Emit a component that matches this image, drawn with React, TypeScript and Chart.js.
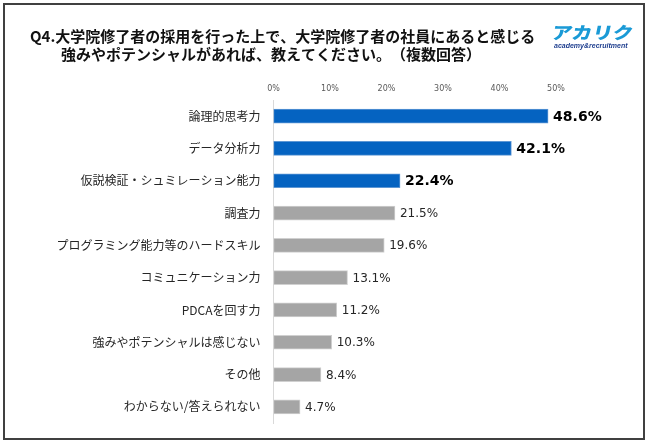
import React, { useEffect, useRef } from "react";
import { Chart, registerables } from "chart.js";

Chart.register(...registerables);

const categories = [
  "論理的思考力",
  "データ分析力",
  "仮説検証・シュミレーション能力",
  "調査力",
  "プログラミング能力等のハードスキル",
  "コミュニケーション力",
  "PDCAを回す力",
  "強みやポテンシャルは感じない",
  "その他",
  "わからない/答えられない",
];
const values = [48.6, 42.1, 22.4, 21.5, 19.6, 13.1, 11.2, 10.3, 8.4, 4.7];
const highlighted = [true, true, true, false, false, false, false, false, false, false];
const xTickMin = 0;
const xTickMax = 50;
const xTickStep = 10;

const titleLine1 = "Q4.大学院修了者の採用を行った上で、大学院修了者の社員にあると感じる";
const titleLine2 = "強みやポテンシャルがあれば、教えてください。（複数回答）";

const BLUE = "#0563c1";
const BLUE_EDGE = "#5e97d4";
const GRAY = "#a5a5a5";
const GRAY_EDGE = "#d0d0d0";

const valueLabelPlugin = {
  id: "valueLabels",
  afterDatasetsDraw(chart: any) {
    const ctx = chart.ctx;
    const meta = chart.getDatasetMeta(0);
    ctx.save();
    ctx.textBaseline = "middle";
    ctx.textAlign = "left";
    meta.data.forEach((bar: any, i: number) => {
      const v = values[i];
      const text = v.toFixed(1) + "%";
      if (highlighted[i]) {
        ctx.font = "bold 14px 'DejaVu Sans'";
        ctx.fillStyle = "#000000";
      } else {
        ctx.font = "12px 'DejaVu Sans'";
        ctx.fillStyle = "#262626";
      }
      ctx.fillText(text, bar.x + 5, bar.y + 1);
    });
    ctx.restore();
  },
};

const titleStyle: any = {
  position: "absolute",
  fontFamily: "'Noto Sans CJK JP'",
  fontWeight: 700,
  fontSize: 15,
  lineHeight: "18px",
  color: "#111111",
  whiteSpace: "nowrap",
  textSpacingTrim: "space-all",
  fontKerning: "none",
};

export default function App() {
  const canvasRef = useRef<HTMLCanvasElement | null>(null);

  useEffect(() => {
    if (!canvasRef.current) return;
    const chart = new Chart(canvasRef.current, {
      type: "bar",
      data: {
        labels: categories,
        datasets: [
          {
            data: values,
            backgroundColor: highlighted.map((h) => (h ? BLUE : GRAY)),
            borderColor: highlighted.map((h) => (h ? BLUE_EDGE : GRAY_EDGE)),
            borderWidth: 1,
            borderSkipped: false,
            barThickness: 14,
          },
        ],
      },
      options: {
        indexAxis: "y",
        responsive: false,
        maintainAspectRatio: false,
        animation: false,
        layout: { padding: { left: 0, right: 94, top: 0, bottom: 22 } },
        plugins: {
          legend: { display: false },
          tooltip: { enabled: false },
          title: { display: false },
        },
        scales: {
          x: {
            position: "top",
            min: xTickMin,
            max: xTickMax,
            grid: { display: false, drawTicks: false },
            border: { display: false },
            ticks: {
              stepSize: xTickStep,
              padding: 6,
              color: "#595959",
              font: { family: "'DejaVu Sans'", size: 8 },
              callback: (v: any) => v + "%",
            },
            afterFit: (s: any) => {
              s.height = 100;
            },
          },
          y: {
            grid: { display: false, drawTicks: false },
            border: { display: true, color: "#d9d9d9", width: 1 },
            ticks: {
              padding: 13,
              color: "#262626",
              font: { family: "'Noto Sans CJK JP'", size: 12 },
            },
            afterFit: (s: any) => {
              s.width = 273.5;
            },
          },
        },
      } as any,
      plugins: [valueLabelPlugin],
    });
    return () => chart.destroy();
  }, []);

  return (
    <div
      style={{
        position: "fixed",
        left: 0,
        top: 0,
        width: 650,
        height: 445,
        background: "#ffffff",
        overflow: "hidden",
      }}
    >
      <div
        style={{
          position: "absolute",
          left: 3,
          top: 3,
          width: 642,
          height: 437,
          border: "2px solid #404040",
          boxSizing: "border-box",
        }}
      />
      <canvas
        ref={canvasRef}
        width={650}
        height={445}
        style={{ position: "absolute", left: 0, top: 0, width: 650, height: 445 }}
      />
      <div style={{ ...titleStyle, left: 30, top: 27 }}>{titleLine1}</div>
      <div style={{ ...titleStyle, left: 61, top: 45 }}>{titleLine2}</div>
      <div
        style={{
          position: "absolute",
          left: 554,
          top: 22,
          fontFamily: "'Noto Sans CJK JP'",
          fontWeight: 900,
          fontSize: 17,
          lineHeight: "20px",
          color: "#1a9ad6",
          whiteSpace: "nowrap",
          transform: "scaleX(1.2) skewX(-10deg)",
          transformOrigin: "left top",
        }}
      >
        アカリク
      </div>
      <div
        style={{
          position: "absolute",
          left: 554,
          top: 41,
          fontFamily: "'Liberation Sans'",
          fontWeight: 700,
          fontStyle: "italic",
          fontSize: 7,
          lineHeight: "9px",
          color: "#1f3f8f",
          whiteSpace: "nowrap",
        }}
      >
        academy&amp;recruitment
      </div>
    </div>
  );
}
